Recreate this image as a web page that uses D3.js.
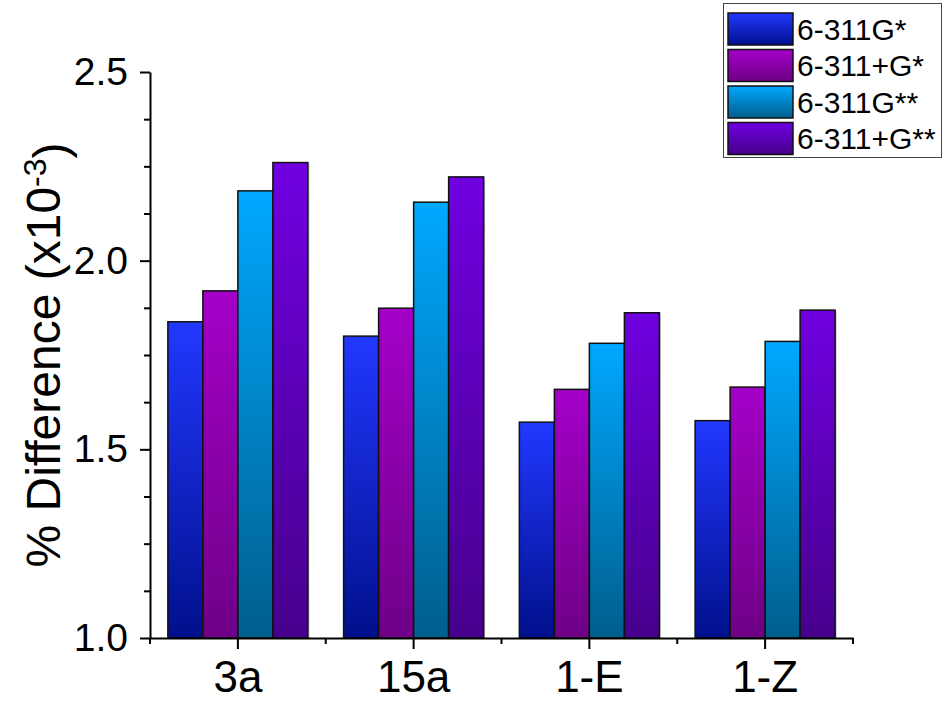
<!DOCTYPE html>
<html>
<head>
<meta charset="utf-8">
<script src="https://cdn.jsdelivr.net/npm/d3@7"></script>
<style>
  body { margin: 0; background: #fff; }
  svg { font-family: "Liberation Sans", Arial, sans-serif; }
</style>
</head>
<body>
<div id="graphs"></div>
<script>
// Datos del grafico
var categories = ["3a", "15a", "1-E", "1-Z"];
var seriesNames = ["6-311G*", "6-311+G*", "6-311G**", "6-311+G**"];
var valuesG1 = [1.838, 1.800, 1.572, 1.576];
var valuesG2 = [1.920, 1.874, 1.659, 1.665];
var valuesG3 = [2.185, 2.155, 1.781, 1.786];
var valuesG4 = [2.260, 2.222, 1.862, 1.869];
var yTicks = [1.0, 1.5, 2.0, 2.5];

// colores arriba / abajo del degradado
var topColors = ["#2238ff", "#a400c8", "#00a8ff", "#7000e0"];
var bottomColors = ["#00108c", "#6e0086", "#005e8c", "#46008c"];

var allValues = [valuesG1, valuesG2, valuesG3, valuesG4];

var width = 943;
var height = 702;
var marginLeft = 150, marginRight = 853, marginTop = 72, marginBottom = 638;

var svg = d3.select('#graphs')
    .append('svg')
    .attr('width', width)
    .attr('height', height);

// degradados verticales
var defs = svg.append("defs");
seriesNames.forEach((name, i) => {
    var grad = defs.append("linearGradient")
        .attr("id", "grad" + i)
        .attr("x1", 0).attr("y1", 0)
        .attr("x2", 0).attr("y2", 1);
    grad.append("stop").attr("offset", "0%").attr("stop-color", topColors[i]);
    grad.append("stop").attr("offset", "100%").attr("stop-color", bottomColors[i]);
});

// escalas
var scaleX = d3.scaleBand().domain(categories).range([marginLeft, marginRight]).padding(0);
var scaleInner = d3.scaleBand().domain(d3.range(seriesNames.length))
    .range([0, scaleX.bandwidth()]).paddingOuter(0.51).paddingInner(0);
var scaleY = d3.scaleLinear().domain([1.0, 2.5]).range([marginBottom, marginTop]);

// datos planos para las barras
var bars = [];
allValues.forEach((vals, s) => {
    vals.forEach((v, c) => {
        bars.push({ serie: s, cat: categories[c], value: v });
    });
});

var barGroup = svg.append("g");

// sombra ligera
barGroup.selectAll(".shadow")
    .data(bars)
    .enter()
    .append("rect")
    .attr("class", "shadow")
    .attr("x", d => scaleX(d.cat) + scaleInner(d.serie) + 1.5)
    .attr("y", d => scaleY(d.value) + 1.5)
    .attr("width", scaleInner.bandwidth())
    .attr("height", d => scaleY(1.0) - scaleY(d.value) - 1.5)
    .attr("fill", "#c8c8c8");

barGroup.selectAll(".bar")
    .data(bars)
    .enter()
    .append("rect")
    .attr("class", "bar")
    .attr("x", d => scaleX(d.cat) + scaleInner(d.serie))
    .attr("y", d => scaleY(d.value))
    .attr("width", scaleInner.bandwidth())
    .attr("height", d => scaleY(1.0) - scaleY(d.value))
    .attr("fill", d => "url(#grad" + d.serie + ")")
    .attr("stroke", "#111")
    .attr("stroke-width", 1.5);

// eje Y
var yMinor = d3.range(1.0, 2.5001, 0.125).filter(v => yTicks.indexOf(+v.toFixed(3)) < 0);
svg.append("g")
    .attr("transform", `translate(${marginLeft},0)`)
    .call(d3.axisLeft(scaleY).tickValues(yMinor).tickSize(6).tickFormat(""))
    .call(g => g.select(".domain").remove())
    .selectAll("line").attr("stroke-width", 2);

var yAxis = svg.append("g")
    .attr("transform", `translate(${marginLeft},0)`)
    .call(d3.axisLeft(scaleY).tickValues(yTicks).tickSize(10).tickSizeOuter(0).tickPadding(12).tickFormat(d3.format(".1f")));
yAxis.select(".domain").attr("stroke-width", 2);
yAxis.selectAll("line").attr("stroke-width", 2);
yAxis.selectAll("text").style("font-size", "39px").attr("fill", "#000");

// eje X
var boundaries = d3.range(categories.length + 1).map(i => marginLeft + i * scaleX.step());
svg.append("g")
    .selectAll("line")
    .data(boundaries)
    .enter()
    .append("line")
    .attr("x1", d => d).attr("x2", d => d)
    .attr("y1", marginBottom).attr("y2", marginBottom + 6)
    .attr("stroke", "#000")
    .attr("stroke-width", 2);

var xAxis = svg.append("g")
    .attr("transform", `translate(0,${marginBottom})`)
    .call(d3.axisBottom(scaleX).tickSize(11).tickSizeOuter(0).tickPadding(12));
xAxis.select(".domain").attr("stroke-width", 2);
xAxis.selectAll("line").attr("stroke-width", 2);
xAxis.selectAll("text").style("font-size", "44px").attr("fill", "#000");

// titulo eje Y
var title = svg.append("text")
    .attr("transform", `translate(60, ${(marginTop + marginBottom) / 2}) rotate(-90)`)
    .attr("text-anchor", "middle")
    .style("font-size", "48px")
    .attr("fill", "#000");
title.append("tspan").text("% Difference (x10");
title.append("tspan").attr("dy", "-0.45em").style("font-size", "32px").text("-3");
title.append("tspan").attr("dy", "0.45em").text(")");

// leyenda
var legend = svg.append("g");
legend.append("rect")
    .attr("x", 723.5).attr("y", 3.5)
    .attr("width", 218).attr("height", 154)
    .attr("fill", "#fff")
    .attr("stroke", "#444")
    .attr("stroke-width", 1);

var rowStep = 36.5;
var legendRows = legend.selectAll(".row")
    .data(seriesNames)
    .enter()
    .append("g")
    .attr("class", "row")
    .attr("transform", (d, i) => `translate(728, ${13 + i * rowStep})`);

legendRows.append("rect")
    .attr("width", 65).attr("height", 32)
    .attr("fill", (d, i) => "url(#grad" + i + ")")
    .attr("stroke", "#111")
    .attr("stroke-width", 1.5);

legendRows.append("text")
    .attr("x", 69)
    .attr("y", 16)
    .attr("dy", "0.36em")
    .style("font-size", "30px")
    .attr("fill", "#000")
    .text(d => d);
</script>
</body>
</html>
